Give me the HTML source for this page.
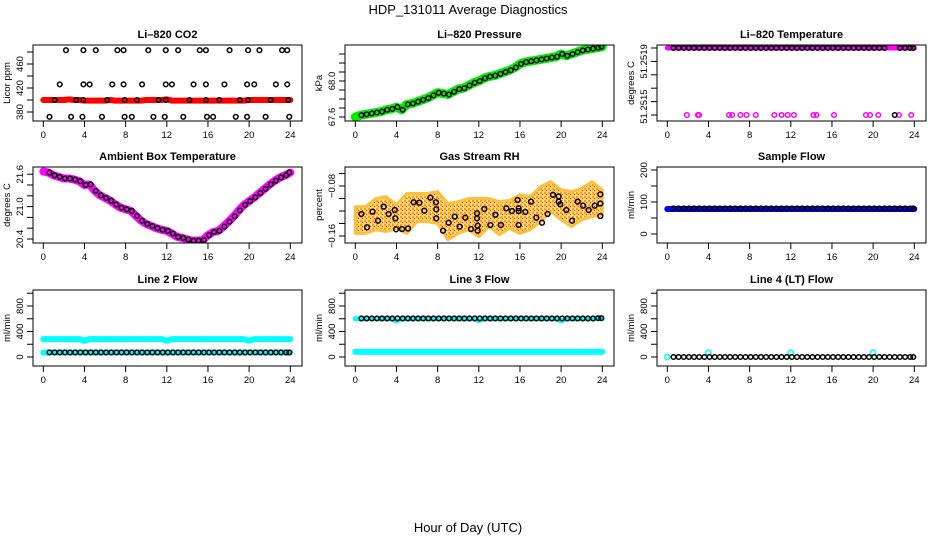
<!DOCTYPE html>
<html><head><meta charset="utf-8"><style>
html,body{margin:0;padding:0;background:#fff}
svg{display:block;font-family:"Liberation Sans",sans-serif}
</style></head><body>
<svg id="chart" width="936" height="540" viewBox="0 0 936 540" xmlns="http://www.w3.org/2000/svg">
<defs>
<pattern id="rhpat" width="4" height="4" patternUnits="userSpaceOnUse">
<rect width="4" height="4" fill="#ffd070"/><rect x="0" y="0" width="2" height="2" fill="#ffa000"/><rect x="2" y="2" width="1" height="1" fill="#ff2000"/><rect x="3" y="0" width="1" height="1" fill="#ffffff"/>
</pattern>
</defs>
<text x="468" y="14" text-anchor="middle" font-size="13">HDP_131011  Average Diagnostics</text>
<text x="468" y="532" text-anchor="middle" font-size="13">Hour of Day (UTC)</text>
</svg>
<script>
const H=[0,0.5,1,1.5,2,2.5,3,3.5,4,4.5,5,5.5,6,6.5,7,7.5,8,8.5,9,9.5,10,10.5,11,11.5,12,12.5,13,13.5,14,14.5,15,15.5,16,16.5,17,17.5,18,18.5,19,19.5,20,20.5,21,21.5,22,22.5,23,23.5,24];
const HB=[0.6,1.1,1.6,2.1,2.6,3.1,3.6,4.1,4.6,5.1,5.6,6.1,6.6,7.1,7.6,8.1,8.6,9.1,9.6,10.1,10.6,11.1,11.6,12.1,12.6,13.1,13.6,14.1,14.6,15.1,15.6,16.1,16.6,17.1,17.6,18.1,18.6,19.1,19.6,20.1,20.6,21.1,21.6,22.1,22.6,23.1,23.6,23.9];
const xTicks=[0,4,8,12,16,20,24];
// CO2
const co2Red=[400,400,400,400,400,401,400,400,399,399,399,399,399,400,399,399,399,399,399,399,400,400,400,400,401,399,399,399,399,399,399,399,399,399,399,399,399,399,399,399,400,400,400,400,400,400,400,400,400];
const co2TopH=[2.2,3.9,5.1,7.2,7.8,10.2,11.9,13.1,15.2,15.8,18.1,19.9,21.0,23.2,23.7];
const co2MidH=[1.6,3.9,4.5,6.7,7.8,9.6,11.9,12.5,14.6,15.8,17.6,19.8,20.5,22.6,23.7];
const co2LowH=[1.1,3.2,3.9,6.2,7.9,9.1,11.2,11.9,14.2,15.8,17.1,19.1,19.9,22.1,23.8];
const co2BotH=[0.6,2.7,3.8,5.7,7.9,8.6,10.7,11.8,13.6,15.9,16.5,18.7,19.8,21.6,23.9];
const co2Levels=[483,426,400,372];
// Pressure
const pres=[67.60,67.62,67.63,67.64,67.65,67.66,67.68,67.69,67.71,67.68,67.74,67.75,67.77,67.79,67.81,67.84,67.87,67.86,67.85,67.88,67.91,67.92,67.95,67.98,68.00,68.03,68.05,68.06,68.08,68.10,68.12,68.15,68.19,68.21,68.22,68.23,68.24,68.25,68.26,68.27,68.30,68.28,68.30,68.32,68.34,68.35,68.36,68.37,68.38];
// Li-820 temperature
const tempBlackH=[0.6,1.1,1.6,2.1,2.6,3.1,3.6,4.1,4.6,5.1,5.6,6.1,6.6,7.1,7.6,8.1,8.6,9.1,9.6,10.1,10.6,11.1,11.6,12.1,12.6,13.1,13.6,14.1,14.6,15.1,15.6,16.1,16.6,17.1,17.6,18.1,18.6,19.1,19.6,20.1,20.6,21.1,22.1,22.6,23.1,23.6,23.9];
const tempBlackV=[51.2519,51.2519,51.2519,51.2519,51.2519,51.2519,51.2519,51.2519,51.2519,51.2519,51.2519,51.2519,51.2519,51.2519,51.2519,51.2519,51.2519,51.2519,51.2519,51.2519,51.2519,51.2519,51.2519,51.2519,51.2519,51.2519,51.2519,51.2519,51.2519,51.2519,51.2519,51.2519,51.2519,51.2519,51.2519,51.2519,51.2519,51.2519,51.2519,51.2519,51.2519,51.2519,51.2515,51.2519,51.2519,51.2519,51.2519];
const tempMagLowH=[1.9,2.98,3.08,6.0,6.3,7.1,7.7,8.6,10.4,11.1,11.7,12.3,14.2,14.5,16.2,19.3,19.7,20.5,22.5,23.7];
const tempLevels=[51.2519,51.2515];
// Ambient
const amb=[21.65,21.63,21.58,21.55,21.52,21.52,21.50,21.47,21.40,21.41,21.29,21.21,21.16,21.11,21.04,20.98,20.95,20.92,20.83,20.74,20.68,20.64,20.60,20.57,20.55,20.50,20.44,20.42,20.39,20.37,20.37,20.38,20.47,20.53,20.55,20.63,20.72,20.82,20.93,21.03,21.10,21.17,21.25,21.33,21.41,21.48,21.54,21.58,21.63];
// RH
const rhH=[0,1,2,3,4,5,6,7,8,9,10,11,12,13,14,15,16,17,18,19,20,21,22,23,24];
const rhUpper=[-0.113,-0.113,-0.100,-0.097,-0.110,-0.092,-0.092,-0.092,-0.089,-0.108,-0.105,-0.100,-0.100,-0.100,-0.105,-0.103,-0.094,-0.097,-0.081,-0.073,-0.086,-0.089,-0.084,-0.073,-0.086];
const rhLower=[-0.156,-0.156,-0.150,-0.153,-0.148,-0.156,-0.137,-0.137,-0.140,-0.166,-0.156,-0.150,-0.161,-0.145,-0.158,-0.148,-0.156,-0.150,-0.137,-0.121,-0.134,-0.145,-0.134,-0.129,-0.126];
const rhPtH=[0.59,1.14,1.68,2.2,2.76,3.24,3.83,3.89,3.96,4.54,5.12,5.67,6.22,6.71,7.29,7.84,7.87,7.87,8.52,9.07,9.66,10.14,10.69,11.24,11.83,11.83,11.89,11.89,12.54,13.12,13.61,14.15,14.67,15.22,15.77,15.87,15.87,15.87,16.52,17.07,17.59,18.14,18.69,19.21,19.76,19.76,19.92,20.5,21.06,21.61,22.13,22.68,23.26,23.81,23.81,23.81];
const rhPtV=[-0.1248,-0.1461,-0.121,-0.1355,-0.113,-0.1248,-0.1184,-0.1317,-0.1493,-0.1488,-0.148,-0.106,-0.1067,-0.1195,-0.0987,-0.106,-0.1173,-0.1317,-0.1515,-0.1387,-0.129,-0.145,-0.1307,-0.1488,-0.1237,-0.1317,-0.1435,-0.1515,-0.1168,-0.1424,-0.126,-0.1424,-0.1157,-0.12,-0.1024,-0.1157,-0.12,-0.1424,-0.1215,-0.105,-0.1307,-0.1387,-0.1248,-0.094,-0.0967,-0.105,-0.1093,-0.1184,-0.1355,-0.105,-0.1115,-0.1184,-0.1115,-0.108,-0.0933,-0.128];
// Flows
const sampleBlue=[78,78,78,78,78,78,78,78,78,78,78,78,78,78,78,78,78,78,78,78,78,78,78,78,78,78,78,78,78,78,78,78,78,78,78,78,78,78,78,78,78,78,78,78,78,78,78,78,78];
const sampleBlack=[80,80,80,80,80,80,80,80,80,80,80,80,80,80,80,80,80,80,80,80,80,80,80,80,80,80,80,80,80,80,80,80,80,80,80,80,80,80,80,80,80,80,80,80,80,80,80,80];
const line2CyanHigh=[280,280,280,280,280,280,280,280,255,280,280,280,280,280,280,280,280,280,280,280,280,280,280,280,255,280,280,280,280,280,280,280,280,280,280,280,280,280,280,280,255,280,280,280,280,280,280,280,280];
const line2CyanLow=[70,70,70,70,70,70,70,70,70,70,70,70,70,70,70,70,70,70,70,70,70,70,70,70,70,70,70,70,70,70,70,70,70,70,70,70,70,70,70,70,70,70,70,70,70,70,70,70,70];
const line2Black=[72,72,72,72,72,72,72,72,72,72,72,72,72,72,72,72,72,72,72,72,72,72,72,72,72,72,72,72,72,72,72,72,72,72,72,72,72,72,72,72,72,72,72,72,72,72,72,72];
const line3CyanHigh=[600,600,600,600,600,600,600,600,565,600,600,600,600,600,600,600,600,600,600,600,600,600,600,600,570,600,600,600,600,600,600,600,600,600,600,600,600,600,600,600,565,600,600,600,600,600,600,600,600];
const line3CyanLow=[80,80,80,80,80,80,80,80,80,80,80,80,80,80,80,80,80,80,80,80,80,80,80,80,80,80,80,80,80,80,80,80,80,80,80,80,80,80,80,80,80,80,80,80,80,80,80,80,80];
const line3Black=[605,605,605,605,605,605,605,605,605,605,605,605,605,605,605,605,605,605,605,605,605,605,605,605,605,605,605,605,605,605,605,605,605,605,605,605,605,605,605,605,605,605,605,605,605,605,610,610];
const line4Black=[0,0,0,0,0,0,0,0,0,0,0,0,0,0,0,0,0,0,0,0,0,0,0,0,0,0,0,0,0,0,0,0,0,0,0,0,0,0,0,0,0,0,0,0,0,0,0,0];
const line4CyanH=[0,4,12,20];
const line4CyanV=[0,70,70,70];

const NS='http://www.w3.org/2000/svg';
const svg=document.getElementById('chart');
const colX=[33,345,657], rowY=[45,167,290], BW=269, BH=76;
function mk(tag,attrs,parent){const e=document.createElementNS(NS,tag);for(const k in attrs)e.setAttribute(k,attrs[k]);(parent||svg).appendChild(e);return e;}
function panel(col,row,name,title,ylab,yA,yB,ticks,labels){
  const g=mk('g',{});
  
  
  const L=colX[col],T=rowY[row];
  const x0=L+10.3,xs=247/24;
  const X=h=>x0+h*xs;
  const ys=(yB[1]-yA[1])/(yB[0]-yA[0]);
  const Y=v=>yA[1]+(v-yA[0])*ys;
  const t=mk('text',{x:L+BW/2,y:T-7,'text-anchor':'middle','font-size':11,'font-weight':'bold'},g);t.textContent=title;
  
  
  const xa=mk('g',{},g);
  
  
  xTicks.forEach(h=>{mk('line',{x1:X(h),x2:X(h),y1:T+BH,y2:T+BH+6,stroke:'#000'},xa);
    const tt=mk('text',{x:X(h),y:T+BH+17,'text-anchor':'middle','font-size':9.5},xa);tt.textContent=h;});
  const ya=mk('g',{},g);
  
  
  ticks.forEach(v=>mk('line',{x1:L-6,x2:L,y1:Y(v),y2:Y(v),stroke:'#000'},ya));
  labels.forEach(([v,s])=>{const tt=mk('text',{x:L-10,y:Y(v),'text-anchor':'middle','font-size':9.5,transform:`rotate(-90 ${L-10} ${Y(v)})`},ya);tt.textContent=s;});
  const yl=mk('text',{x:L-23,y:T+BH/2,'text-anchor':'middle','font-size':9.5,transform:`rotate(-90 ${L-23} ${T+BH/2})`},g);yl.textContent=ylab;
  
  
  const clip='c'+name;const cp=mk('clipPath',{id:clip},g);mk('rect',{x:L,y:T,width:BW,height:BH},cp);
  const d=mk('g',{'clip-path':`url(#${clip})`},g);
  const box=mk('rect',{x:L,y:T,width:BW,height:BH,fill:'none',stroke:'#000','stroke-width':1},g);
  
  
  return {X,Y,d};
}
function band(p,hs,vs,color,w,nm){
  const pl=mk('polyline',{points:hs.map((h,i)=>p.X(h)+','+p.Y(vs[i])).join(' '),fill:'none',stroke:color,'stroke-width':w,'stroke-linejoin':'round','stroke-linecap':'round'},p.d);
  
  
}
function pts(p,hs,vs,color,nm,r,fill){
  const g=mk('g',{},p.d);
  
  
  hs.forEach((h,i)=>{const c=mk('circle',{cx:p.X(h),cy:p.Y(vs[i]),r:r||2.3,fill:fill||'none',stroke:color,'stroke-width':1.5},g);
    
    });
}
// CO2
let p=panel(0,0,'co2','Li\u2013820 CO2','Licor ppm',[380,112],[420,88],[380,400,420,440,460,480],[[380,'380'],[420,'420'],[460,'460']]);
band(p,H,co2Red,'#ff0000',6,'co2-red-band');
[co2TopH,co2MidH,co2LowH,co2BotH].forEach((hs,k)=>pts(p,hs,hs.map(()=>co2Levels[k]),'#000','co2-black-points'));
// Pressure
p=panel(1,0,'pressure','Li\u2013820 Pressure','kPa',[67.6,117],[68.0,81],[67.6,67.7,67.8,67.9,68.0,68.1,68.2,68.3],[[67.6,'67.6'],[68.0,'68.0']]);
band(p,H,pres,'#00ee00',9,'pressure-green-band');
pts(p,HB,pres.slice(1),'#000','pressure-black-points');
// Temperature
p=panel(2,0,'li820-temp','Li\u2013820 Temperature','degrees C',[51.2515,115],[51.2519,48],[51.2515,51.25158,51.25166,51.25174,51.25182,51.2519],[[51.25182,'51.2519'],[51.25155,'51.2515']]);
band(p,[0,24],[tempLevels[0],tempLevels[0]],'#ff00ff',5,'temp-magenta-band');
pts(p,tempMagLowH,tempMagLowH.map(()=>tempLevels[1]),'#ff00ff','temp-magenta-low-points');
pts(p,tempBlackH,tempBlackV,'#000','temp-black-points');
// Ambient
p=panel(0,1,'ambient','Ambient Box Temperature','degrees C',[20.4,239],[21.6,174.2],[20.4,20.6,20.8,21.0,21.2,21.4,21.6],[[20.4,'20.4'],[21.0,'21.0'],[21.6,'21.6']]);
band(p,H,amb,'#ff00ff',8,'ambient-magenta-band');
pts(p,HB,amb.slice(1),'#000','ambient-black-points');
// RH
p=panel(1,1,'rh','Gas Stream RH','percent',[-0.16,236],[-0.08,186],[-0.16,-0.14,-0.12,-0.10,-0.08,-0.06],[[-0.16,'\u22120.16'],[-0.08,'\u22120.08']]);
const poly=mk('polygon',{points:rhH.map((h,i)=>p.X(h)+','+p.Y(rhUpper[i])).concat(rhH.slice().reverse().map((h,i)=>p.X(h)+','+p.Y(rhLower[rhH.length-1-i]))).join(' '),fill:'url(#rhpat)',stroke:'#ffc040','stroke-width':3,'stroke-linejoin':'round'},p.d);


pts(p,rhPtH,rhPtV,'#000','rh-black-points',2.4);
// Sample flow
p=panel(2,1,'sample-flow','Sample Flow','ml/min',[0,234],[100,202],[0,50,100,150,200],[[0,'0'],[100,'100'],[200,'200']]);
band(p,H,sampleBlue,'#0000ff',6,'sample-blue-band');
pts(p,HB,sampleBlack,'#000','sample-black-points');
const fT=[0,200,400,600,800,1000],fL=[[0,'0'],[400,'400'],[800,'800']];
// Line 2
p=panel(0,2,'line2','Line 2 Flow','ml/min',[0,357],[800,306],fT,fL);
band(p,H,line2CyanHigh,'#00ffff',6,'line2-cyan-high-band');
band(p,H,line2CyanLow,'#00ffff',6,'line2-cyan-low-band');
pts(p,HB,line2Black,'#000','line2-black-points');
// Line 3
p=panel(1,2,'line3','Line 3 Flow','ml/min',[0,357],[800,306],fT,fL);
band(p,H,line3CyanHigh,'#00ffff',5,'line3-cyan-high-band');
band(p,H,line3CyanLow,'#00ffff',6,'line3-cyan-low-band');
pts(p,HB,line3Black,'#000','line3-black-points');
// Line 4
p=panel(2,2,'line4','Line 4 (LT) Flow','ml/min',[0,357],[800,306],fT,fL);
pts(p,line4CyanH,line4CyanV,'#00ffff','line4-cyan-points',2.6);
pts(p,HB,line4Black,'#000','line4-black-points');
</script>
</body></html>
